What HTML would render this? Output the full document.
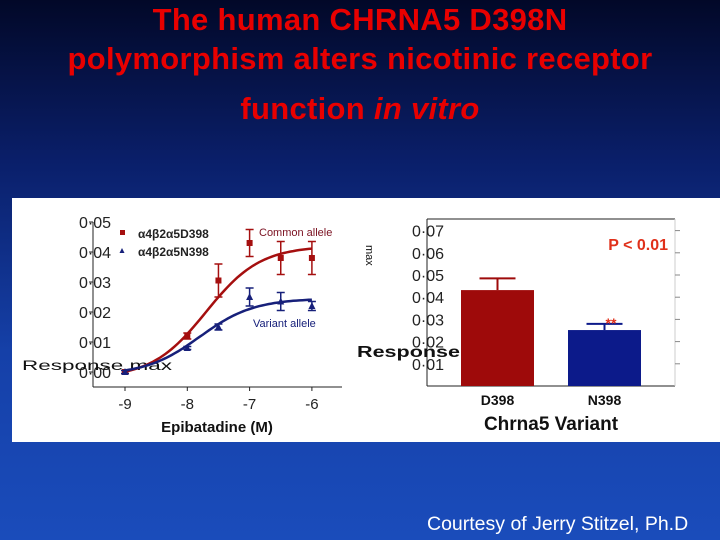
<!DOCTYPE html>
<html><head><meta charset="utf-8"><style>
body{margin:0;width:720px;height:540px;overflow:hidden;font-family:"Liberation Sans",sans-serif;background:linear-gradient(#020828 0%,#0a1f6a 30%,#1540a8 65%,#1a4cbb 100%);position:relative}
.t{position:absolute;left:0;width:720px;text-align:center;color:#e80000;font-size:31px;font-weight:bold;letter-spacing:0.3px}
#panel{position:absolute;left:12px;top:198px;width:708px;height:244px;background:#fff}
#foot{position:absolute;left:427px;top:513px;color:#fff;font-size:19.5px}
</style></head><body>
<div class="t" style="top:2px">The human CHRNA5 D398N</div>
<div class="t" style="top:41px">polymorphism alters nicotinic receptor</div>
<div class="t" style="top:91px">function <i>in vitro</i></div>
<div id="panel"></div>
<svg id="chart" width="720" height="540" style="position:absolute;left:0;top:0"></svg>
<div id="foot">Courtesy of Jerry Stitzel, Ph.D</div>
<script>
const logConc=[-9,-8,-7.5,-7,-6.5,-6];
const redVals=[0.0,0.012,0.0305,0.043,0.038,0.038];
const redErr=[0.0005,0.001,0.0055,0.0045,0.0055,0.0055];
const blueVals=[0.0,0.008,0.015,0.025,0.0235,0.022];
const blueErr=[0.0005,0.0005,0.001,0.003,0.003,0.0015];
const redFit=[-0.002,0.042,-7.7,1.0];
const blueFit=[-0.001,0.0245,-7.8,1.0];
const lineTicks=[0,0.01,0.02,0.03,0.04,0.05];
const lineTickLabels=["0·00","0·01","0·02","0·03","0·04","0·05"];
const xTicks=[-9,-8,-7,-6];
const barCats=["D398","N398"];
const barVals=[0.0432,0.0252];
const barErr=[0.0053,0.0028];
const barTicks=[0.01,0.02,0.03,0.04,0.05,0.06,0.07];
const barTickLabels=["0·01","0·02","0·03","0·04","0·05","0·06","0·07"];

const svg=document.getElementById('chart');
const NS='http://www.w3.org/2000/svg';
function mk(tag,attrs,parent){const e=document.createElementNS(NS,tag);for(const k in attrs)e.setAttribute(k,attrs[k]);(parent||svg).appendChild(e);return e;}
function txt(x,y,s,attrs){const e=mk('text',Object.assign({x:x,y:y,'font-family':'Liberation Sans, sans-serif'},attrs));e.textContent=s;return e;}
const X=v=>125+(v+9)*62.3;
const Y=v=>372-v*3000;
let a=mk('line',{x1:93,y1:222,x2:93,y2:387,stroke:'#222','stroke-width':1});

a=mk('line',{x1:93,y1:387,x2:342,y2:387,stroke:'#222','stroke-width':1});

lineTicks.forEach((v,i)=>{mk('line',{x1:89,x2:93,y1:Y(v),y2:Y(v),stroke:'#222'});
 const t=txt(111,Y(v)+6,lineTickLabels[i],{'font-size':16,fill:'#222','text-anchor':'end'});
 });
xTicks.forEach(v=>{mk('line',{x1:X(v),x2:X(v),y1:387,y2:391,stroke:'#222'});
 const t=txt(X(v),409,String(v),{'font-size':15,fill:'#222','text-anchor':'middle'});
 });
let t=txt(217,432,'Epibatadine (M)',{'font-size':15,'font-weight':'bold',fill:'#111','text-anchor':'middle'});

t=txt(22,370,'Response max',{'font-size':14,fill:'#111',textLength:150,lengthAdjust:'spacingAndGlyphs'});

function hill(p,x){return p[0]+(p[1]-p[0])/(1+Math.pow(10,(p[2]-x)*p[3]));}
function series(vals,err,fit,col,marker,name){
 let d='';for(let x=-9;x<=-5.999;x+=0.05){d+=(d?'L':'M')+X(x).toFixed(1)+','+Y(hill(fit,x)).toFixed(1);}
 d+='L'+X(-6)+','+Y(hill(fit,-6)).toFixed(1);
 const p=mk('path',{d:d,fill:'none',stroke:col,'stroke-width':2.5});
 
 vals.forEach((v,i)=>{const x=X(logConc[i]);
  mk('line',{x1:x,x2:x,y1:Y(v+err[i]),y2:Y(v-err[i]),stroke:col,'stroke-width':1.5});
  mk('line',{x1:x-4,x2:x+4,y1:Y(v+err[i]),y2:Y(v+err[i]),stroke:col,'stroke-width':1.5});
  mk('line',{x1:x-4,x2:x+4,y1:Y(v-err[i]),y2:Y(v-err[i]),stroke:col,'stroke-width':1.5});
  let m;if(marker==='sq')m=mk('rect',{x:x-3,y:Y(v)-3,width:6,height:6,fill:col});
  else m=mk('polygon',{points:`${x},${Y(v)-4} ${x-3.5},${Y(v)+3} ${x+3.5},${Y(v)+3}`,fill:col});
  });
}
series(redVals,redErr,redFit,'#a50f0f','sq','d398');
series(blueVals,blueErr,blueFit,'#17207a','tri','n398');
mk('rect',{x:120,y:230,width:5,height:5,fill:'#a50f0f'});
t=txt(138,238,'α4β2α5D398',{'font-size':12,'font-weight':'bold',fill:'#222'});

mk('polygon',{points:'122,248 119.5,253 124.5,253',fill:'#17207a'});
t=txt(138,256,'α4β2α5N398',{'font-size':12,'font-weight':'bold',fill:'#222'});

t=txt(259,236,'Common allele',{'font-size':11,fill:'#7a1020'});

t=txt(253,327,'Variant allele',{'font-size':11,fill:'#17207a'});

const BY=v=>386-v*2220;
const bx=[461,568];
a=mk('line',{x1:427,y1:219,x2:427,y2:386,stroke:'#222'});

a=mk('line',{x1:427,y1:386,x2:675,y2:386,stroke:'#222'});

mk('line',{x1:427,y1:219,x2:675,y2:219,stroke:'#222'});
mk('line',{x1:675,y1:219,x2:675,y2:386,stroke:'#ccc'});
barTicks.forEach((v,i)=>{mk('line',{x1:675,x2:680,y1:BY(v),y2:BY(v),stroke:'#888'});
 const tt=txt(444,BY(v)+6,barTickLabels[i],{'font-size':16,fill:'#222','text-anchor':'end'});
 });
const cols=['#9e0a0a','#0c1a8a'];
barVals.forEach((v,i)=>{const r=mk('rect',{x:bx[i],y:BY(v),width:73,height:386-BY(v),fill:cols[i]});
 
 const cx=bx[i]+36.5;
 mk('line',{x1:cx,x2:cx,y1:BY(v),y2:BY(v+barErr[i]),stroke:cols[i],'stroke-width':2});
 mk('line',{x1:cx-18,x2:cx+18,y1:BY(v+barErr[i]),y2:BY(v+barErr[i]),stroke:cols[i],'stroke-width':2});
 const tt=txt(cx,405,barCats[i],{'font-size':14,'font-weight':'bold',fill:'#111','text-anchor':'middle'});
 });
t=txt(551,430,'Chrna5 Variant',{'font-size':19,'font-weight':'bold',fill:'#111','text-anchor':'middle'});

t=txt(668,250,'P < 0.01',{'font-size':16,'font-weight':'bold',fill:'#e0301a','text-anchor':'end'});

t=txt(611,328,'**',{'font-size':14,'font-weight':'bold',fill:'#e0301a','text-anchor':'middle'});

t=txt(357,357,'Response',{'font-size':16,'font-weight':'bold',fill:'#111',textLength:103,lengthAdjust:'spacingAndGlyphs'});

t=txt(366,245,'max',{'font-size':11,fill:'#111',transform:'rotate(90 366 245)'});

</script>
</body></html>
